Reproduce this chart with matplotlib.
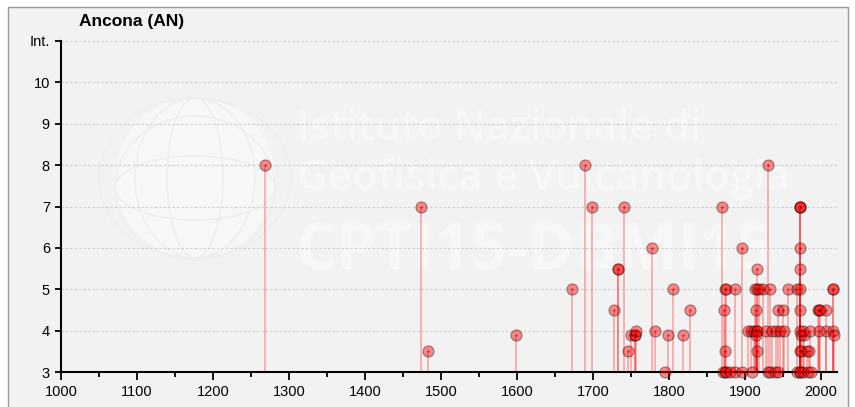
import matplotlib
matplotlib.use("Agg")
import matplotlib.pyplot as plt
from matplotlib.patches import Rectangle, Ellipse
import numpy as np

plt.rcParams['font.family'] = ['Liberation Sans', 'DejaVu Sans']

# felt reports: year and intensity (MCS) at Ancona
years = [1269, 1474, 1483, 1599, 1672, 1690, 1698, 1727, 1733, 1733,
         1741, 1746, 1750, 1755, 1755, 1756, 1778, 1781, 1795, 1799,
         1805, 1818, 1828,
         1870, 1872, 1874, 1871, 1874, 1875, 1874, 1875, 1887, 1880,
         1887, 1896, 1896, 1909, 1904, 1908, 1912, 1913, 1916, 1919,
         1923, 1933, 1916, 1915, 1916, 1916, 1915, 1916, 1927, 1930,
         1930, 1933, 1939, 1943, 1935, 1941, 1946, 1951, 1943, 1950,
         1956, 1968, 1969, 1972, 1972, 1976, 1983, 1987,
         1972, 1972, 1972, 1972, 1972, 1972, 1972, 1972, 1972,
         1974, 1978, 1976, 1974, 1982, 1984, 1986, 1996, 1997, 1998,
         1997, 2006, 2006, 2016, 2016, 2016, 2017]
intensity = [8, 7, 3.5, 3.9, 5, 8, 7, 4.5, 5.5, 5.5,
             7, 3.5, 3.9, 3.9, 3.9, 4, 6, 4, 3, 3.9,
             5, 3.9, 4.5,
             7, 4.5, 3.5, 3, 3, 3, 5, 5, 5, 3,
             3, 3, 6, 3, 4, 4, 4, 5, 5, 5,
             5, 5, 5.5, 4.5, 4, 4, 3.9, 3.5, 4, 8,
             3, 3, 3, 3, 4, 4, 4, 4, 4.5, 4.5,
             5, 5, 3, 3, 3, 3, 3, 3,
             7, 7, 7, 6, 5.5, 5, 4.5, 4, 3.5,
             3.9, 3.9, 4, 3.5, 3.5, 3.5, 4, 4.5, 4.5, 4.5,
             4, 4.5, 4, 5, 5, 4, 3.9]

xticks = list(range(1000, 2001, 100))
yticks = list(range(3, 12))
ylabels = [str(v) for v in range(3, 11)] + ['Int.']

W, H = 855, 407
fig = plt.figure(figsize=(W / 100, H / 100), dpi=100, facecolor='white')

# grey panel with thin frame
fig.patches.append(Rectangle((8 / W, -0.02), (848 - 8) / W, (H - 7) / H + 0.02,
                             transform=fig.transFigure, facecolor='#f2f2f2',
                             edgecolor='#9a9a9a', lw=1, zorder=-10))

# watermark logo
cx, cy, r = 195 / W, 1 - 178 / H, 80
fig.patches.append(Ellipse((cx, cy), 2 * r / W, 2 * r / H, transform=fig.transFigure,
                           facecolor='white', alpha=0.4, edgecolor='none', zorder=-6))
for w in [0.35, 0.75, 1.2]:
    fig.patches.append(Ellipse((cx, cy), 2 * r * w / W, 2 * r / H, transform=fig.transFigure,
                               facecolor='none', edgecolor='#eeeeee', lw=1.2, zorder=-5))
for h in [0.4, 0.9]:
    fig.patches.append(Ellipse((cx, cy - 10 / H), 2 * r / W, 2 * r * h / H,
                               transform=fig.transFigure, facecolor='none',
                               edgecolor='#eeeeee', lw=1.2, zorder=-5))

wm = dict(color='white', alpha=0.45, zorder=-4, family='Open Sans', ha='left', va='baseline')
fig.text(297 / W, 1 - 140 / H, 'Istituto Nazionale di', fontsize=30, weight='semibold', **wm)
fig.text(297 / W, 1 - 190 / H, 'Geofisica e Vulcanologia', fontsize=30.5, weight='semibold', **wm)
fig.text(295 / W, 1 - 270 / H, 'CPTI15-DBMI15', fontsize=46, weight='bold', **wm)

ax = fig.add_axes([61 / W, (H - 372) / H, (837 - 61) / W, (372 - 41) / H])
ax.set_facecolor('none')

yrs = np.array(years)
its = np.array(intensity)
ax.vlines(yrs, 3, its, color='red', alpha=0.28, lw=1.4, zorder=2)
ax.plot(yrs, its, 'o', ms=8, mfc=(1, 0, 0, 0.45), mec=(0, 0, 0, 0.38), mew=0.8,
        zorder=3, clip_on=False)
ax.plot(yrs, its, '.', ms=0.8, color=(0.3, 0, 0, 0.7), zorder=4, clip_on=False)

ax.set_xlim(1000, 2021)
ax.set_ylim(3, 11)
ax.set_xticks(xticks)
ax.set_xticks(range(1050, 2001, 100), minor=True)
ax.set_yticks(yticks)
ax.set_yticklabels(ylabels)
for y in range(4, 12):
    ax.axhline(y, color='#cccccc', lw=0.8, ls=(0, (2, 2)), zorder=1)

for s in ['top', 'right']:
    ax.spines[s].set_visible(False)
for s in ['left', 'bottom']:
    ax.spines[s].set_linewidth(1.5)
ax.tick_params(axis='x', which='major', length=6, width=1.3, labelsize=10.5, pad=3)
ax.tick_params(axis='x', which='minor', length=3.5, width=1.3)
ax.tick_params(axis='y', length=4, width=1.3, labelsize=10.5, pad=4)

fig.text(79 / W, 1 - 26 / H, 'Ancona (AN)', fontsize=12.5, weight='bold', ha='left',
         va='baseline')

fig.savefig('out.png', dpi=100)
